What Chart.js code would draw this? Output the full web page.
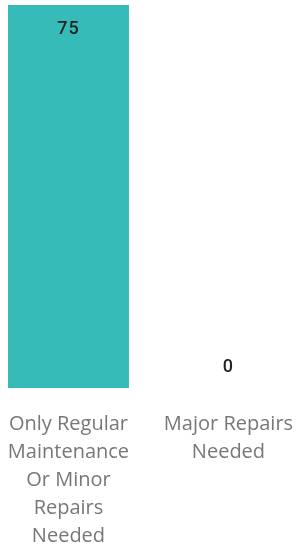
<!DOCTYPE html>
<html>
<head>
<meta charset="utf-8">
<script src="https://cdn.jsdelivr.net/npm/chart.js@4/dist/chart.umd.min.js"></script>
<style>
html,body{margin:0;padding:0;background:#fff;}
#wrap{position:relative;width:296px;height:550px;}
</style>
</head>
<body>
<div id="wrap"><canvas id="c"></canvas></div>
<script>
const categories = [
  ["Only Regular", "Maintenance", "Or Minor", "Repairs", "Needed"],
  ["Major Repairs", "Needed"]
];
const values = [75, 0];
const valueLabels = ["75", "0"];

const valuePlugin = {
  id: 'valueLabels',
  afterDatasetsDraw(chart) {
    const ctx = chart.ctx;
    const meta = chart.getDatasetMeta(0);
    ctx.save();
    ctx.font = '500 18px Roboto';
    ctx.letterSpacing = '1px';
    ctx.fillStyle = '#252423';
    ctx.textAlign = 'center';
    ctx.textBaseline = 'middle';
    meta.data.forEach((bar, i) => {
      const h = bar.base - bar.y;
      const y = h > 40 ? bar.y + 24 : bar.y - 21;
      ctx.fillText(valueLabels[i], bar.x, y);
    });
    ctx.restore();
  }
};

new Chart(document.getElementById('c'), {
  type: 'bar',
  data: {
    datasets: [{
      data: values.map((v, i) => ({ x: i, y: v })),
      backgroundColor: '#36BBB9',
      borderWidth: 0,
      categoryPercentage: 1,
      barPercentage: 0.756
    }]
  },
  options: {
    responsive: true,
    maintainAspectRatio: false,
    animation: false,
    layout: { padding: { left: 0, right: 0, top: 5, bottom: 0 } },
    plugins: { legend: { display: false }, tooltip: { enabled: false } },
    scales: {
      x: {
        type: 'linear',
        min: -0.428,
        max: 1.422,
        offset: false,
        grid: { display: false, drawTicks: false },
        border: { display: false },
        afterBuildTicks(scale) {
          scale.ticks = categories.map((c, i) => ({ value: i }));
        },
        ticks: {
          color: '#777777',
          font: { family: '"Open Sans"', size: 20, lineHeight: 1.405 },
          padding: 22,
          maxRotation: 0,
          minRotation: 0,
          autoSkip: false,
          callback: (v) => categories[v] || ''
        },
        afterFit(scale) {
          scale.paddingLeft = 0;
          scale.paddingRight = 0;
          scale.height = 162;
        }
      },
      y: {
        display: false,
        min: 0,
        max: 75
      }
    }
  },
  plugins: [valuePlugin]
});
</script>
</body>
</html>
